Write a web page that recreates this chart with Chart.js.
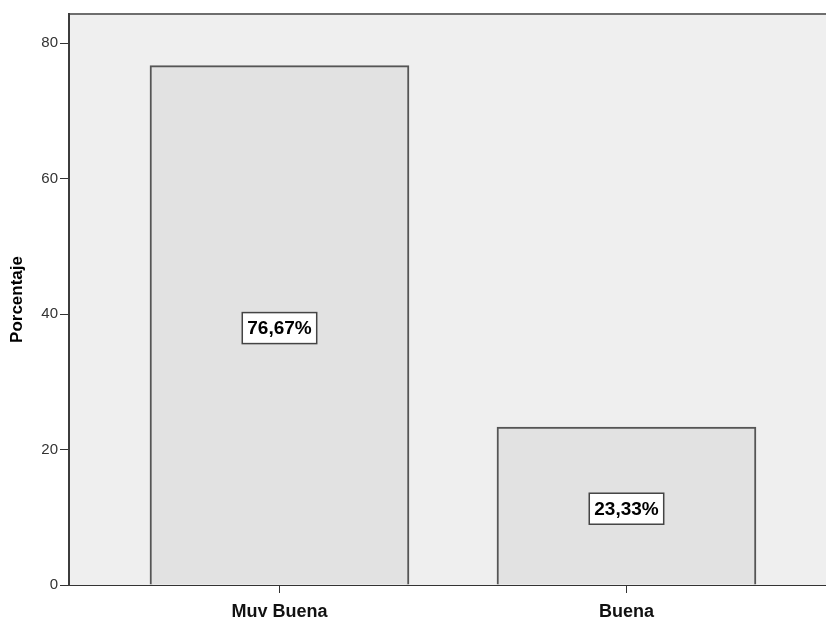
<!DOCTYPE html>
<html>
<head>
<meta charset="utf-8">
<script src="https://cdn.jsdelivr.net/npm/chart.js@4.4.1/dist/chart.umd.min.js"></script>
<style>
  html, body { margin: 0; padding: 0; background: #ffffff; }
  canvas { display: block; }
</style>
</head>
<body>
<canvas id="myChart" width="826" height="617"></canvas>
<script>
const categories = ["Muy Buena", "Buena"];
const percentages = [76.67, 23.33];
const valueLabels = ["76,67%", "23,33%"];
const yTicks = [0, 20, 40, 60, 80];

const fontFamily = "'Liberation Sans', Arial, sans-serif";

// plot background + top frame line
const plotBackground = {
  id: "plotBackground",
  beforeDraw: (chart) => {
    const { ctx, chartArea } = chart;
    ctx.save();
    ctx.fillStyle = "#efefef";
    ctx.fillRect(chartArea.left, chartArea.top, chartArea.right - chartArea.left, chartArea.bottom - chartArea.top);
    ctx.strokeStyle = "#6e6e6e";
    ctx.lineWidth = 2;
    ctx.beginPath();
    ctx.moveTo(chartArea.left, chartArea.top);
    ctx.lineTo(chartArea.right, chartArea.top);
    ctx.stroke();
    ctx.restore();
  },
};

// boxed value labels in the middle of each bar
const boxedLabels = {
  id: "boxedLabels",
  afterDatasetsDraw: (chart) => {
    const { ctx } = chart;
    const meta = chart.getDatasetMeta(0);
    ctx.save();
    ctx.font = "bold 19px " + fontFamily;
    ctx.textAlign = "center";
    ctx.textBaseline = "middle";
    meta.data.forEach((bar, i) => {
      const text = valueLabels[i];
      const cx = bar.x;
      const cy = (bar.y + bar.base) / 2 + 3;
      const w = ctx.measureText(text).width + 10;
      const h = 31;
      ctx.fillStyle = "#ffffff";
      ctx.fillRect(cx - w / 2, cy - h / 2, w, h);
      ctx.strokeStyle = "#444444";
      ctx.lineWidth = 1.5;
      ctx.strokeRect(cx - w / 2, cy - h / 2, w, h);
      ctx.fillStyle = "#000000";
      ctx.fillText(text, cx, cy + 1);
    });
    ctx.restore();
  },
};

const ctx = document.getElementById("myChart").getContext("2d");
const myChart = new Chart(ctx, {
  type: "bar",
  data: {
    datasets: [
      {
        data: percentages.map((v, i) => ({ x: i, y: v })),
        backgroundColor: "#e2e2e2",
        borderColor: "#555555",
        borderWidth: 2,
        barThickness: 259,
      },
    ],
  },
  options: {
    responsive: false,
    animation: false,
    layout: { padding: { top: 14, left: 0, right: 0, bottom: 0 } },
    plugins: {
      legend: { display: false },
      tooltip: { enabled: false },
    },
    scales: {
      x: {
        type: "linear",
        offset: false,
        min: -0.6066,
        max: 1.575,
        afterBuildTicks: (scale) => {
          scale.ticks = categories.map((c, i) => ({ value: i }));
        },
        afterFit: (scale) => {
          scale.height = 32;
        },
        grid: {
          offset: false,
          drawOnChartArea: false,
          drawTicks: true,
          tickLength: 8,
          color: "#333333",
        },
        border: { color: "#333333", width: 1 },
        ticks: {
          padding: 8,
          color: "#111111",
          font: { family: fontFamily, size: 18, weight: "bold" },
          callback: (value) => categories[value],
        },
      },
      y: {
        min: 0,
        max: 84.3,
        afterBuildTicks: (scale) => {
          scale.ticks = yTicks.map((v) => ({ value: v }));
        },
        afterFit: (scale) => {
          scale.width = 69;
        },
        grid: {
          drawOnChartArea: false,
          drawTicks: true,
          tickLength: 9,
          color: "#333333",
        },
        border: { color: "#3c3c3c", width: 2 },
        ticks: {
          padding: 2,
          color: "#333333",
          font: { family: fontFamily, size: 15 },
        },
        title: {
          display: true,
          text: "Porcentaje",
          color: "#000000",
          padding: { top: 7, bottom: 4 },
          font: { family: fontFamily, size: 17, weight: "bold" },
        },
      },
    },
  },
  plugins: [plotBackground, boxedLabels],
});
</script>
</body>
</html>
